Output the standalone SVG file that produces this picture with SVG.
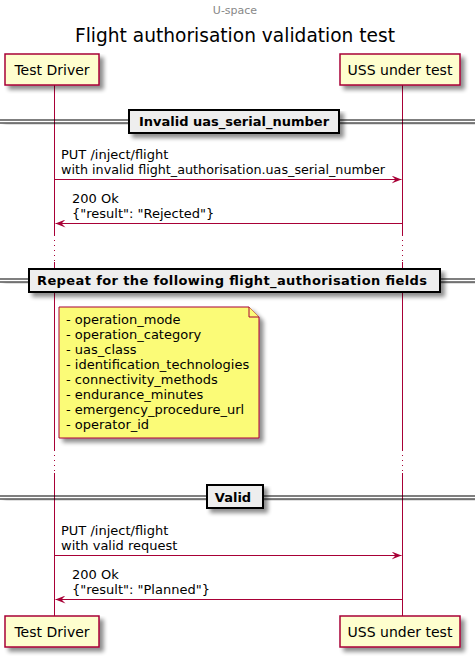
<svg xmlns="http://www.w3.org/2000/svg" width="475" height="659" viewBox="0 0 475 659">
<defs>
<filter id="sh" x="-10%" y="-10%" width="130%" height="150%">
<feGaussianBlur in="SourceAlpha" stdDeviation="2" result="b"/>
<feOffset in="b" dx="4" dy="4" result="o"/>
<feComponentTransfer in="o" result="g"><feFuncA type="linear" slope="0.45"/></feComponentTransfer>
<feMerge><feMergeNode in="g"/><feMergeNode in="SourceGraphic"/></feMerge>
</filter>
<marker id="ah" viewBox="0 0 10 8" refX="10" refY="4" markerWidth="10" markerHeight="8" markerUnits="userSpaceOnUse" orient="auto">
<polygon points="0,0 10,4 0,8 4,4" fill="#A80036"/>
</marker>
</defs>
<style>
text{font-family:"DejaVu Sans","Liberation Sans",sans-serif;fill:#000}
.part rect{fill:#FEFECE;stroke:#A80036;stroke-width:1.5}
.part text{font-size:14px;text-anchor:middle}
.life{stroke:#A80036;stroke-width:1;fill:none}
.dot{stroke:#A80036;stroke-width:1;stroke-dasharray:1,4;fill:none}
.msg line{stroke:#A80036;stroke-width:1;marker-end:url(#ah)}
.msg text{font-size:13px}
.div line{stroke:#000;stroke-width:1.2}
.div rect{fill:#EEEEEE;stroke:#000;stroke-width:2}
.div text{font-size:13px;font-weight:bold;text-anchor:middle}
.note path{fill:#FBFB77;stroke:#A80036;stroke-width:1}
.note text{font-size:13px}
</style>
<rect width="475" height="659" fill="#fff"/>
<text x="235" y="14" style="font-size:11px;fill:#888888" text-anchor="middle">U-space</text>
<text x="235" y="42" style="font-size:18.6px" text-anchor="middle">Flight authorisation validation test</text>

<g id="lifelines">
<line class="life" x1="54.5" y1="85" x2="54.5" y2="235"/>
<line class="dot" x1="54.5" y1="235" x2="54.5" y2="262"/>
<line class="life" x1="54.5" y1="262" x2="54.5" y2="450"/>
<line class="dot" x1="54.5" y1="450" x2="54.5" y2="473"/>
<line class="life" x1="54.5" y1="473" x2="54.5" y2="616"/>
<line class="life" x1="402.5" y1="85" x2="402.5" y2="235"/>
<line class="dot" x1="402.5" y1="235" x2="402.5" y2="262"/>
<line class="life" x1="402.5" y1="262" x2="402.5" y2="450"/>
<line class="dot" x1="402.5" y1="450" x2="402.5" y2="473"/>
<line class="life" x1="402.5" y1="473" x2="402.5" y2="616"/>
</g>

<g id="testdriver" class="part">
<rect x="5" y="54" width="94" height="31" filter="url(#sh)"/>
<text x="52" y="75">Test Driver</text>
<rect x="5" y="616" width="94" height="31" filter="url(#sh)"/>
<text x="52" y="637">Test Driver</text>
</g>
<g id="uss" class="part">
<rect x="340" y="54" width="120" height="31" filter="url(#sh)"/>
<text x="400" y="75">USS under test</text>
<rect x="340" y="616" width="120" height="31" filter="url(#sh)"/>
<text x="400" y="637">USS under test</text>
</g>

<g id="div1" class="div">
<g filter="url(#sh)"><line x1="0" y1="120" x2="475" y2="120"/><line x1="0" y1="123" x2="475" y2="123"/></g>
<rect x="129" y="110" width="210" height="23" filter="url(#sh)"/>
<text x="234" y="126">Invalid uas_serial_number</text>
</g>
<g id="div2" class="div">
<g filter="url(#sh)"><line x1="0" y1="279" x2="475" y2="279"/><line x1="0" y1="282" x2="475" y2="282"/></g>
<rect x="29" y="269" width="411" height="23" filter="url(#sh)"/>
<text x="232" y="285" textLength="390" lengthAdjust="spacing">Repeat for the following flight_authorisation fields</text>
</g>
<g id="div3" class="div">
<g filter="url(#sh)"><line x1="0" y1="496" x2="475" y2="496"/><line x1="0" y1="499" x2="475" y2="499"/></g>
<rect x="207" y="485" width="56" height="23" filter="url(#sh)"/>
<text x="233" y="502">Valid</text>
</g>

<g id="note" class="note">
<path d="M59,307 L249,307 L259,317 L259,438 L59,438 Z" filter="url(#sh)"/>
<path d="M249,307 L249,317 L259,317" fill="none"/>
<text x="66" y="324">- operation_mode</text>
<text x="66" y="339">- operation_category</text>
<text x="66" y="354">- uas_class</text>
<text x="66" y="369">- identification_technologies</text>
<text x="66" y="384">- connectivity_methods</text>
<text x="66" y="399">- endurance_minutes</text>
<text x="66" y="414">- emergency_procedure_url</text>
<text x="66" y="429">- operator_id</text>
</g>

<g id="connectors" class="msg">
<line x1="54.5" y1="179.5" x2="401.5" y2="179.5"/>
<text x="61" y="159">PUT /inject/flight</text>
<text x="61" y="174" textLength="324" lengthAdjust="spacingAndGlyphs">with invalid flight_authorisation.uas_serial_number</text>
<line x1="402.5" y1="223.5" x2="55.5" y2="223.5"/>
<text x="72" y="203">200 Ok</text>
<text x="72" y="218">{"result": "Rejected"}</text>
<line x1="54.5" y1="555.5" x2="401.5" y2="555.5"/>
<text x="61" y="535">PUT /inject/flight</text>
<text x="61" y="550">with valid request</text>
<line x1="402.5" y1="599.5" x2="55.5" y2="599.5"/>
<text x="72" y="579">200 Ok</text>
<text x="72" y="594">{"result": "Planned"}</text>
</g>
</svg>
